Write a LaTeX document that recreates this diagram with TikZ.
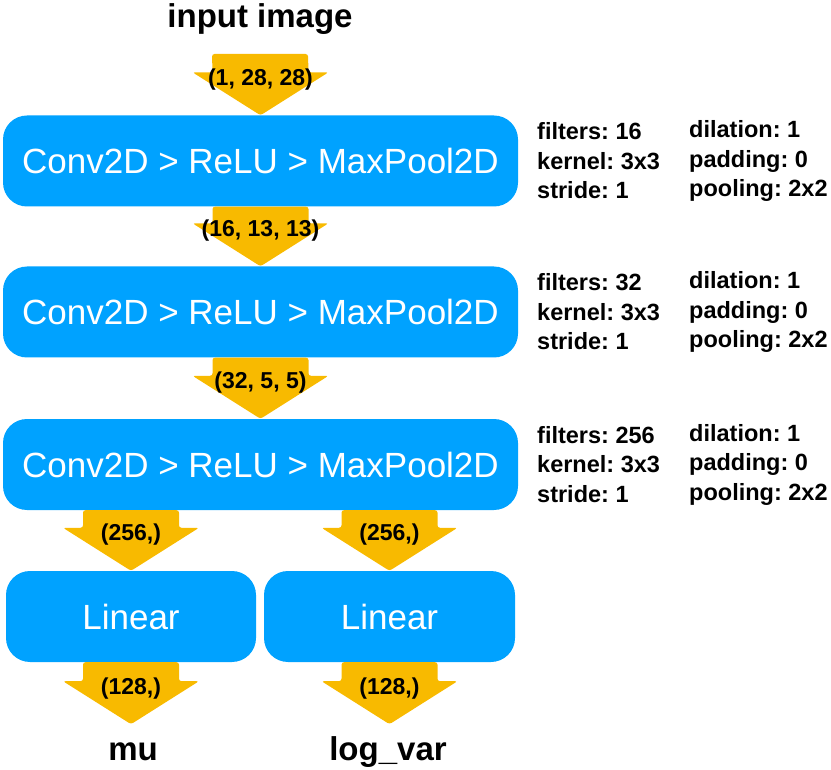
\documentclass[tikz,border=0pt]{standalone}
\usepackage{fontspec}
\setmainfont{Liberation Sans}
\usetikzlibrary{calc}
\frenchspacing
\definecolor{boxblue}{HTML}{00A2FF}
\definecolor{arrowyel}{HTML}{F8BA00}
\tikzset{
  x=1pt, y=-1pt,
  blockbox/.style={draw=none, fill=boxblue, rounded corners=24pt, text=white,
    inner sep=0pt, minimum height=91pt, font=\fontsize{35}{40}\selectfont},
  arrlabel/.style={font=\fontsize{23}{26}\selectfont\bfseries, inner sep=0pt},
  sidetext/.style={font=\fontsize{23.5}{29.5}\selectfont\bfseries, align=left, inner sep=0pt, anchor=west},
  outlabel/.style={font=\fontsize{33}{38}\selectfont\bfseries, inner sep=0pt, anchor=base},
}
\newcommand{\fatarrow}[3]{%
  \fill[arrowyel, rounded corners=2.5pt]
    ($(#1)+(-48,0)$) -- ($(#1)+(48,0)$) -- ($(#2)+(48,-43)$) -- ($(#2)+(68,-43)$)
    -- (#2) -- ($(#2)+(-68,-43)$) -- ($(#2)+(-48,-43)$) -- cycle;
  \node[arrlabel] at ($(#2)+(0,-36)$) {#3};
}
\begin{document}
\begin{tikzpicture}
\frenchspacing
\useasboundingbox (0,0) rectangle (831,770);
% title
\node[outlabel] (inp) at (260,28) {input image};
\coordinate (inarr) at (260,54);
% main boxes
\node[blockbox, minimum width=515pt] (b1) at (260.5,161) {Conv2D > ReLU > MaxPool2D};
\node[blockbox, minimum width=515pt] (b2) at (260.5,312) {Conv2D > ReLU > MaxPool2D};
\node[blockbox, minimum width=515pt] (b3) at (260.5,464.5) {Conv2D > ReLU > MaxPool2D};
\node[blockbox, minimum width=250pt] (l1) at (131,616.5) {Linear};
\node[blockbox, minimum width=251pt] (l2) at (389.5,616.5) {Linear};
% side parameters
\node[sidetext] (p1a) at (537,161) {filters: 16\\kernel: 3x3\\stride: 1};
\node[sidetext] (p1b) at (689,161) {dilation: 1\\padding: 0\\pooling: 2x2};
\node[sidetext] (p2a) at (537,312) {filters: 32\\kernel: 3x3\\stride: 1};
\node[sidetext] (p2b) at (689,312) {dilation: 1\\padding: 0\\pooling: 2x2};
\node[sidetext] (p3a) at (537,464.5) {filters: 256\\kernel: 3x3\\stride: 1};
\node[sidetext] (p3b) at (689,464.5) {dilation: 1\\padding: 0\\pooling: 2x2};
% outputs
\node[outlabel] (mu) at (133,760) {mu};
\node[outlabel] (lv) at (388,760) {log\_var};
\coordinate (t1) at ($(l1.south)+(0,62)$);
\coordinate (t2) at ($(l2.south)+(0,62)$);
% arrows
\fatarrow{inarr}{b1.north}{(1, 28, 28)}
\fatarrow{b1.south}{b2.north}{(16, 13, 13)}
\fatarrow{b2.south}{b3.north}{(32, 5, 5)}
\fatarrow{b3.south -| l1.north}{l1.north}{(256,)}
\fatarrow{b3.south -| l2.north}{l2.north}{(256,)}
\fatarrow{l1.south}{t1}{(128,)}
\fatarrow{l2.south}{t2}{(128,)}
\end{tikzpicture}
\end{document}
